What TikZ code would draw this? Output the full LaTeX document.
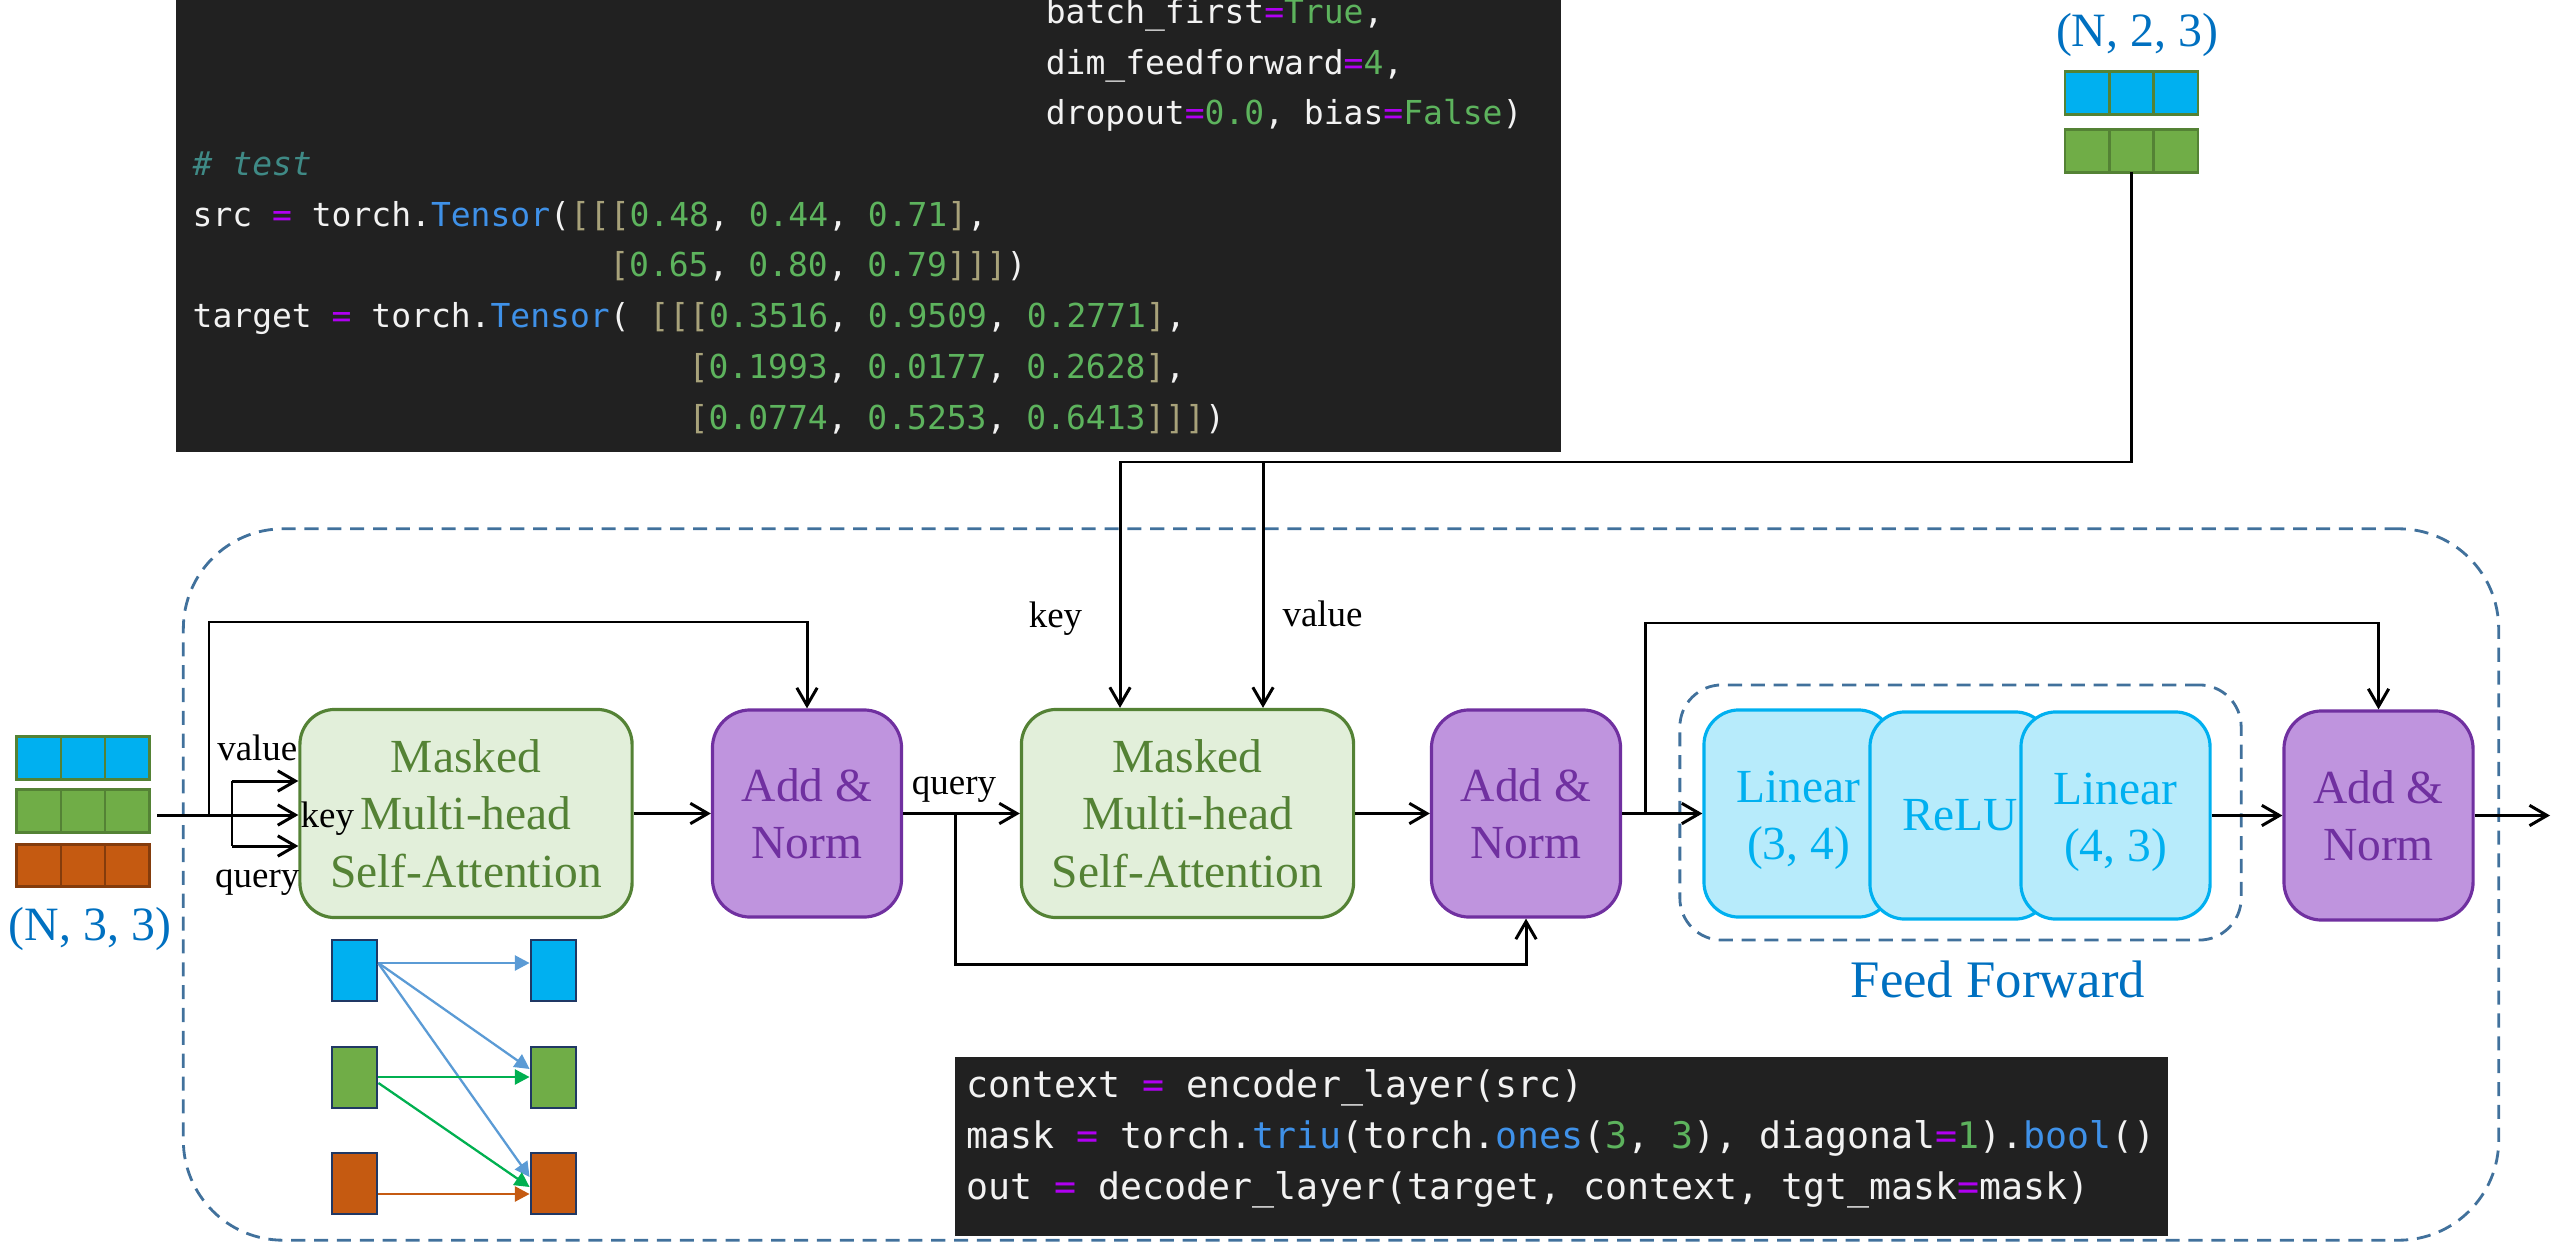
\documentclass[tikz,border=0pt]{standalone}
\usepackage{fontspec}
\setmainfont{Liberation Serif}
\newfontfamily\codefont{DejaVu Sans Mono}
\usetikzlibrary{arrows.meta,calc}

% palette
\definecolor{frameblue}{HTML}{41719C}
\definecolor{attnfill}{HTML}{E2EFDA}
\definecolor{attnline}{HTML}{548235}
\definecolor{normfill}{HTML}{BF94DE}
\definecolor{normline}{HTML}{7030A0}
\definecolor{fffill}{HTML}{B7EBFB}
\definecolor{ffline}{HTML}{00B0F0}
\definecolor{dimblue}{HTML}{0070C0}
\definecolor{cellblue}{HTML}{00B0F0}
\definecolor{cellgreen}{HTML}{70AD47}
\definecolor{cellorange}{HTML}{C55A11}
\definecolor{celledge}{HTML}{548235}
\definecolor{celledgeo}{HTML}{843C0C}
\definecolor{sqedge}{HTML}{203864}
\definecolor{arrblue}{HTML}{5B9BD5}
\definecolor{arrgreen}{HTML}{00B050}
\definecolor{codebg}{HTML}{212121}
\definecolor{codetext}{HTML}{F2F2F2}
\definecolor{codeeq}{HTML}{B000F2}
\definecolor{codenum}{HTML}{5DB35D}
\definecolor{codebr}{HTML}{A8A27A}
\definecolor{codefn}{HTML}{3F91E8}
\definecolor{codecom}{HTML}{3F8A86}

% syntax colouring helpers for the code panels
\newcommand\codeEq{\textcolor{codeeq}{=}}
\newcommand\codeNum[1]{\textcolor{codenum}{#1}}
\newcommand\codeBr[1]{\textcolor{codebr}{#1}}
\newcommand\codeFn[1]{\textcolor{codefn}{#1}}

\newcommand\boxfont{\fontsize{13.5pt}{16.3pt}\selectfont}
\newcommand\lblfont{\fontsize{10.5pt}{12pt}\selectfont}
\newcommand\dimfont{\fontsize{13.6pt}{16pt}\selectfont}
\newcommand\fffont{\fontsize{15pt}{18pt}\selectfont}
% taller first line, so two-line labels in the feed-forward boxes sit a little lower
\newcommand\ffstrut{\rule{0pt}{0.45cm}}

% one row of a tensor: three cells side by side
\newcommand\tensorrow[5]{%
  \foreach \k in {0,1,2}{%
    \node[cell, fill=#4, draw=#5] (#1-\k) at ({#2+22.17+44.33*\k},#3) {};
  }%
}

\begin{document}
\begin{tikzpicture}[x=0.01cm,y=-0.01cm,
  flow/.style={line width=0.85pt, -{Straight Barb[length=5pt,width=5.8pt]}},
  link/.style={line width=0.85pt},
  attn/.style={draw=attnline, fill=attnfill, line width=0.9pt, rounded corners=0.35cm,
    minimum width=3.32cm, minimum height=2.08cm, align=center, text=attnline, font=\boxfont},
  addnorm/.style={draw=normline, fill=normfill, line width=0.9pt, rounded corners=0.38cm,
    minimum width=1.89cm, minimum height=2.07cm, align=center, text=normline, font=\boxfont},
  ffbox/.style={draw=ffline, fill=fffill, line width=0.9pt, rounded corners=0.35cm,
    minimum width=1.89cm, minimum height=2.07cm, align=center, text=ffline, font=\boxfont},
  frame/.style={draw=frameblue, line width=0.8pt, dash pattern=on 4pt off 2.5pt},
  cell/.style={minimum width=0.4433cm, minimum height=0.425cm, inner sep=0pt, outer sep=0pt, line width=0.75pt},
  square/.style={draw=sqedge, line width=0.8pt, minimum width=0.45cm, minimum height=0.61cm, inner sep=0pt},
  lbl/.style={inner sep=0pt, font=\lblfont},
  dimlbl/.style={inner sep=0pt, anchor=base, text=dimblue, font=\dimfont},
  codepanel/.style={fill=codebg, inner sep=0pt},
  codeline/.style={anchor=base west, inner sep=0pt, text=codetext},
  topcode/.style={codeline, font=\codefont\fontsize{9.38pt}{11pt}\selectfont},
  botcode/.style={codeline, font=\codefont\fontsize{10.4pt}{12pt}\selectfont},
  attarrow/.style={line width=0.65pt, -{Triangle[length=4.2pt,width=4.3pt]}},
]
\useasboundingbox (0,0) rectangle (2552,1249);

% ---------------- decoder layer frame ----------------
\node[frame, rounded corners=1cm, minimum width=23.14cm, minimum height=7.11cm] (decoder) at (1341,884.5) {};
\node[frame, rounded corners=0.42cm, minimum width=5.61cm, minimum height=2.55cm] (ffgroup) at (1960.5,812.5) {};
\node[anchor=base, inner sep=0pt, text=dimblue, font=\fffont] (fflabel) at (1998,997) {Feed Forward};

% ---------------- code panel at the top ----------------
\node[codepanel, minimum width=13.85cm, minimum height=4.62cm] (code1) at (868.5,221) {};
\node[topcode] (c1l0) at (1045.1,23.5) {batch\_first\codeEq\codeNum{True},};
\node[topcode] (c1l1) at (1045.1,74.2) {dim\_feedforward\codeEq\codeNum{4},};
\node[topcode] (c1l2) at (1045.1,124.9) {dropout\codeEq\codeNum{0.0}, bias\codeEq\codeNum{False})};
\node[topcode, text=codecom] (c1l3) at (192,175.6) {\itshape\# test};
\node[topcode] (c1l4) at (192,226.3) {src \codeEq{} torch.\codeFn{Tensor}(\codeBr{[[[}\codeNum{0.48}, \codeNum{0.44}, \codeNum{0.71}\codeBr{]},};
\node[topcode] (c1l5) at (608.6,277.0) {\codeBr{[}\codeNum{0.65}, \codeNum{0.80}, \codeNum{0.79}\codeBr{]]]})};
\node[topcode] (c1l6) at (192,327.7) {target \codeEq{} torch.\codeFn{Tensor}( \codeBr{[[[}\codeNum{0.3516}, \codeNum{0.9509}, \codeNum{0.2771}\codeBr{]},};
\node[topcode] (c1l7) at (688,378.4) {\codeBr{[}\codeNum{0.1993}, \codeNum{0.0177}, \codeNum{0.2628}\codeBr{]},};
\node[topcode] (c1l8) at (688,429.1) {\codeBr{[}\codeNum{0.0774}, \codeNum{0.5253}, \codeNum{0.6413}\codeBr{]]]})};

% ---------------- code panel at the bottom ----------------
\node[codepanel, minimum width=12.13cm, minimum height=1.79cm] (code2) at (1561.5,1146.5) {};
\node[botcode] (c2l0) at (966,1097) {context \codeEq{} encoder\_layer(src)};
\node[botcode] (c2l1) at (966,1148) {mask \codeEq{} torch.\codeFn{triu}(torch.\codeFn{ones}(\codeNum{3}, \codeNum{3}), diagonal\codeEq\codeNum{1}).\codeFn{bool}()};
\node[botcode] (c2l2) at (966,1199) {out \codeEq{} decoder\_layer(target, context, tgt\_mask\codeEq{}mask)};

% ---------------- input tensors ----------------
\tensorrow{tb}{16.5}{758}{cellblue}{celledge}
\tensorrow{tg}{16.5}{811}{cellgreen}{celledge}
\tensorrow{to}{16.5}{865.5}{cellorange}{celledgeo}
\node[dimlbl] (tdim) at (90,940) {(N, 3, 3)};

\tensorrow{mb}{2065}{93}{cellblue}{celledge}
\tensorrow{mg}{2065}{151}{cellgreen}{celledge}
\node[dimlbl] (mdim) at (2137,47) {(N, 2, 3)};

% ---------------- blocks ----------------
\node[attn] (m1) at (466,813.5) {Masked\\Multi-head\\Self-Attention};
\node[addnorm] (a1) at (807,813.5) {Add \&\\Norm};
\node[attn] (m2) at (1187.5,813.5) {Masked\\Multi-head\\Self-Attention};
\node[addnorm] (a2) at (1526,813.5) {Add \&\\Norm};
\node[ffbox] (l1) at (1798.5,813.5) {\ffstrut Linear\\(3, 4)};
\node[ffbox, minimum width=1.80cm] (relu) at (1960,815.5) {ReLU};
\node[ffbox] (l2) at (2115.5,815.5) {\ffstrut Linear\\(4, 3)};
\node[addnorm, minimum height=2.09cm] (a3) at (2378.5,815.5) {Add \&\\Norm};

% ---------------- connectors: first sub-layer ----------------
\coordinate (in0) at (157,815);
\coordinate (fork) at (232,815);
\coordinate (s1) at (209,815);
\coordinate (top1) at (209,622);
\draw[flow] (in0) -- (in0 -| m1.west);
\draw[link] (fork |- 0,781) -- (fork |- 0,846);
\draw[flow] (fork |- 0,781) -- ($(m1.west)+(0,-32.5)$);
\draw[flow] (fork |- 0,846) -- ($(m1.west)+(0,32.5)$);
\draw[flow] (s1) -- (top1) -| (a1.north);
\draw[flow] (m1.east) -- (a1.west);

% ---------------- connectors: cross attention ----------------
\coordinate (qb) at (955,813.5);
\coordinate (qbot) at (955,964);
\coordinate (kjoin) at (1120,462);
\coordinate (vjoin) at (1263,462);
\draw[flow] (a1.east) -- (m2.west);
\draw[flow] (qb) -- (qbot) -| (a2.south);
\draw[flow] (mg-1.south) |- (kjoin) -- (kjoin |- m2.north);
\draw[flow] (vjoin) -- (vjoin |- m2.north);
\draw[flow] (m2.east) -- (a2.west);

% ---------------- connectors: feed forward ----------------
\coordinate (s2) at (1645,813.5);
\coordinate (top2) at (1645,623);
\coordinate (out) at (2550,815.5);
\draw[flow] (a2.east) -- (l1.west);
\draw[flow] (s2) -- (top2) -| (a3.north);
\draw[flow] (l2.east) -- (a3.west);
\draw[flow] (a3.east) -- (out);

% ---------------- port labels ----------------
\node[lbl, anchor=base east] (lv1) at (298,760) {value};
\node[lbl, anchor=base west] (lk1) at (300,827) {key};
\node[lbl, anchor=base east] (lq1) at (300,887) {query};
\node[lbl, anchor=base] (lq2) at (954,794) {query};
\node[lbl, anchor=base] (lk2) at (1055.5,627) {key};
\node[lbl, anchor=base] (lv2) at (1322.5,626) {value};

% ---------------- causal mask sketch ----------------
\node[square, fill=cellblue] (lb1) at (354.5,970.5) {};
\node[square, fill=cellgreen] (lb2) at (354.5,1077.5) {};
\node[square, fill=cellorange] (lb3) at (354.5,1183.5) {};
\node[square, fill=cellblue] (rb1) at (553.5,970.5) {};
\node[square, fill=cellgreen] (rb2) at (553.5,1077.5) {};
\node[square, fill=cellorange] (rb3) at (553.5,1183.5) {};
\draw[attarrow, arrblue] ($(lb1.east)+(0,-7.5)$) -- ($(rb1.west)+(0,-7.5)$);
\draw[attarrow, arrblue] ($(lb1.east)+(0,-7.5)$) -- ($(rb2.west)+(0,-8.5)$);
\draw[attarrow, arrblue] ($(lb1.east)+(0,-7)$) -- ($(rb3.west)+(0,-6.5)$);
\draw[attarrow, arrgreen] ($(lb2.east)+(0,-0.5)$) -- ($(rb2.west)+(0,-0.5)$);
\draw[attarrow, arrgreen] ($(lb2.east)+(0,5.5)$) -- ($(rb3.west)+(0,3.5)$);
\draw[attarrow, cellorange] ($(lb3.east)+(0,10.5)$) -- ($(rb3.west)+(0,10.5)$);
\end{tikzpicture}
\end{document}
